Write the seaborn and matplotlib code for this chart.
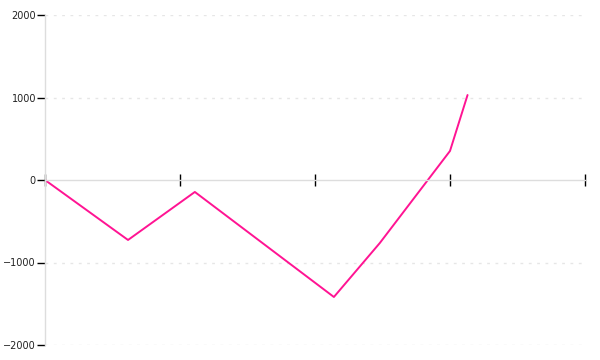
import matplotlib
matplotlib.use("Agg")
import matplotlib.pyplot as plt
import seaborn as sns
import pandas as pd

x_vals = [0.0, 0.615, 1.11, 2.14, 2.48, 3.0, 3.13]
y_vals = [0, -727, -145, -1418, -764, 352, 1030]
y_ticks = [-2000, -1000, 0, 1000, 2000]
x_ticks = [0, 1, 2, 3, 4]

sns.set_theme(style="white")
plt.rcParams['font.family'] = ['DejaVu Sans']

df = pd.DataFrame({"x": x_vals, "y": y_vals})

fig = plt.figure(figsize=(6, 3.6), dpi=100)
ax = fig.add_axes([45/600, 15/360, 540/600, 330/360])
sns.lineplot(data=df, x="x", y="y", ax=ax, color="#FF1493", linewidth=1.4, sort=False)

ax.set_xlim(0, 4)
ax.set_ylim(-2000, 2000)
ax.set_xticks(x_ticks)
ax.set_xticklabels([])
ax.set_yticks(y_ticks)
ax.set_yticklabels([str(v).replace("-", "\u2212") for v in y_ticks], fontsize=7, color="#222222")
ax.set_xlabel("")
ax.set_ylabel("")

for s in ["top", "right"]:
    ax.spines[s].set_visible(False)
ax.spines["left"].set_color("#dddddd")
ax.spines["left"].set_linewidth(1)
ax.spines["bottom"].set_position(("data", 0))
ax.spines["bottom"].set_color("#dddddd")
ax.spines["bottom"].set_linewidth(1)

ax.tick_params(axis="y", direction="out", length=6, width=1, color="black", pad=0.5, left=True)
ax.tick_params(axis="x", direction="inout", length=9, width=1, color="black", bottom=True)

for v in [-2000, -1000, 1000, 2000]:
    ax.axhline(v, color="#e6e6e6", linestyle=(0, (2, 4)), linewidth=1, zorder=0)

ax.set_facecolor("white")
fig.savefig("out.png", dpi=100, facecolor="white")
